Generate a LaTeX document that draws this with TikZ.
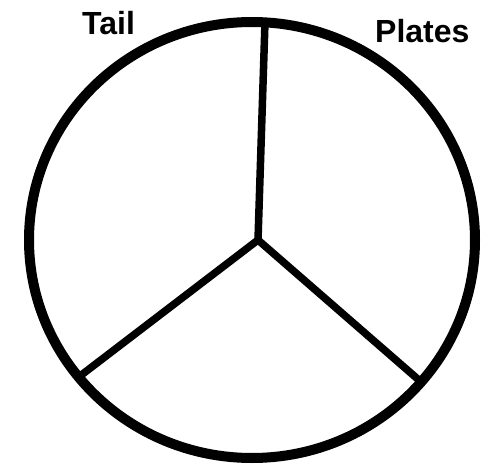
\documentclass[tikz,border=0pt]{standalone}
\usepackage{fontspec}
\setmainfont{Liberation Sans}
\begin{document}
\begin{tikzpicture}[x=1pt,y=-1pt,
  rim/.style={line width=10pt},
  spoke/.style={line width=7.5pt},
  lbl/.style={inner sep=0pt,anchor=base west,font=\fontsize{32}{40}\selectfont\bfseries}]
\useasboundingbox (0,0) rectangle (482,468);
\coordinate (o) at (252,240);
\coordinate (c) at (258,240);
\coordinate (t) at (265,22);
\coordinate (l) at (80,376);
\coordinate (r) at (420,381);
\draw[rim] (o) ellipse [x radius=223, y radius=218];
\draw[spoke] (c) -- (t);
\draw[spoke] (c) -- (l);
\draw[spoke] (c) -- (r);
\node[lbl] (tail) at (82,35) {Tail};
\node[lbl] (plates) at (375,43) {Plates};
\end{tikzpicture}
\end{document}
